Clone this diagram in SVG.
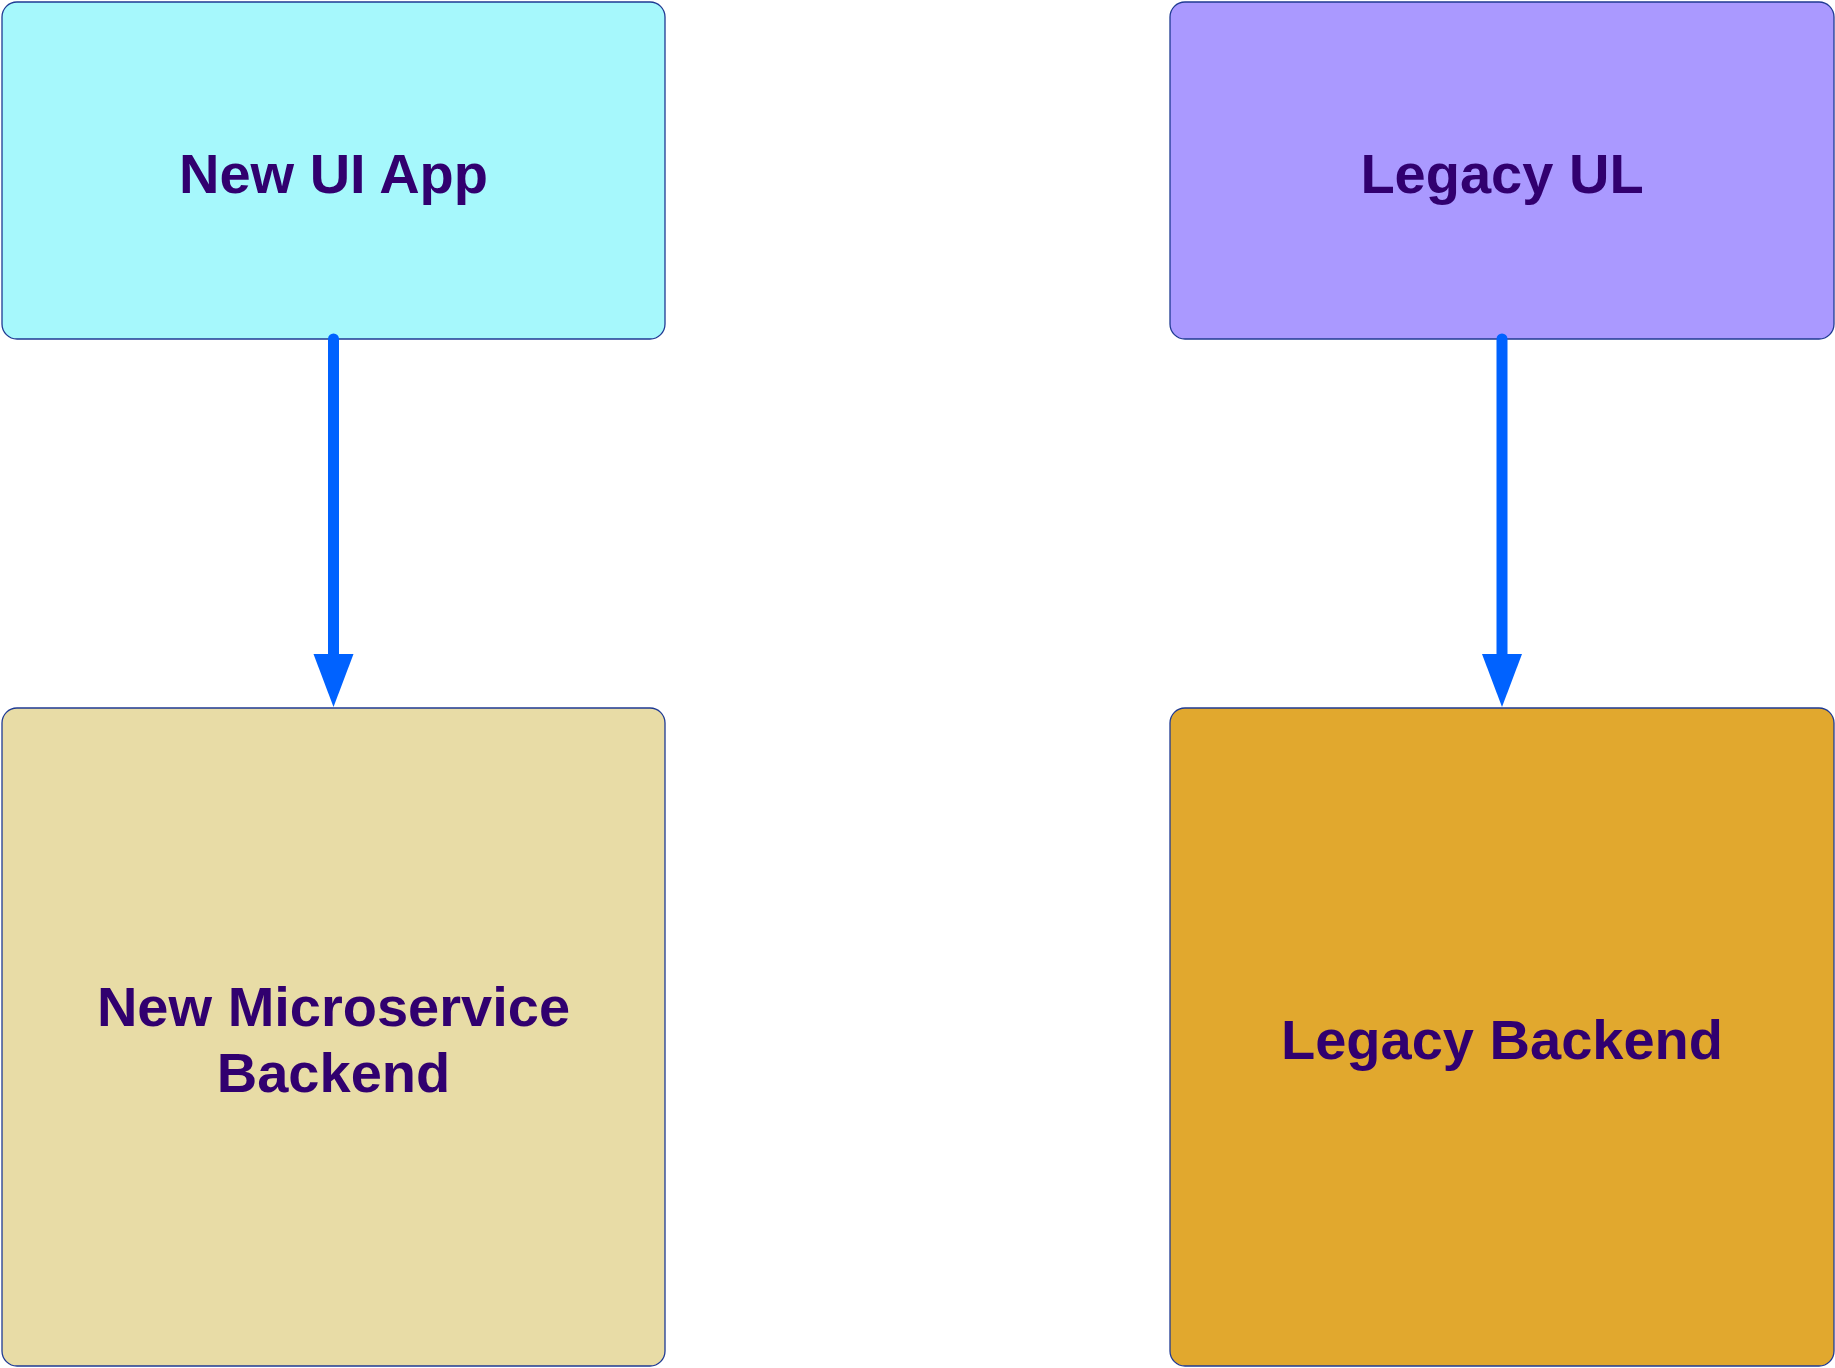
<svg xmlns="http://www.w3.org/2000/svg" width="1835" height="1368" viewBox="0 0 1835 1368">
<style>
.box{stroke:#1F3A93;stroke-width:1.3}
.lbl{font-family:"Liberation Sans",Arial,sans-serif;font-weight:bold;font-size:56px;fill:#31006F;text-anchor:middle}
.conn{stroke:#0062FF;stroke-width:11;stroke-linecap:round;fill:none}
.head{fill:#0062FF}
</style>
<rect width="1835" height="1368" fill="#FFFFFF"/>
<g id="node-new-ui">
<rect class="box" x="2" y="2" width="663" height="337" rx="15" fill="#A6F8FC"/>
<text class="lbl" x="333.5" y="193">New UI App</text>
</g>
<g id="node-legacy-ui">
<rect class="box" x="1170" y="2" width="664" height="337" rx="15" fill="#AA99FF"/>
<text class="lbl" x="1502" y="193">Legacy UL</text>
</g>
<g id="node-new-backend">
<rect class="box" x="2" y="708" width="663" height="658" rx="15" fill="#E8DCA6"/>
<text class="lbl" x="333.5" y="1026">New Microservice</text>
<text class="lbl" x="333.5" y="1092">Backend</text>
</g>
<g id="node-legacy-backend">
<rect class="box" x="1170" y="708" width="664" height="658" rx="15" fill="#E1A82E"/>
<text class="lbl" x="1502" y="1059">Legacy Backend</text>
</g>
<g id="connectors">
<path class="conn" d="M333.5,339 L333.5,656"/>
<path class="head" d="M313.5,654 L353.5,654 L333.5,707 Z"/>
<path class="conn" d="M1502,339 L1502,656"/>
<path class="head" d="M1482,654 L1522,654 L1502,707 Z"/>
</g>
</svg>
